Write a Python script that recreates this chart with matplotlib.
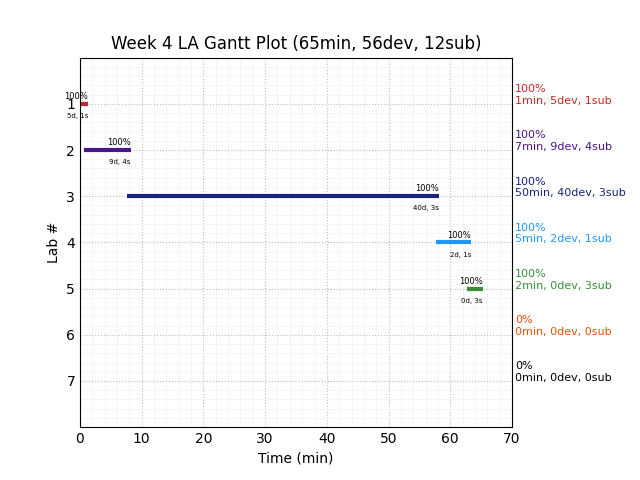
import matplotlib
matplotlib.use("Agg")
import matplotlib.pyplot as plt
from matplotlib.ticker import MultipleLocator

labs = [1, 2, 3, 4, 5, 6, 7]
starts = [0.2, 0.7, 7.6, 57.7, 62.7]
ends = [1.3, 8.2, 58.2, 63.4, 65.3]
pcts = ["100%", "100%", "100%", "100%", "100%", "0%", "0%"]
bar_notes = ["5d, 1s", "9d, 4s", "40d, 3s", "2d, 1s", "0d, 3s"]
summaries = ["1min, 5dev, 1sub", "7min, 9dev, 4sub", "50min, 40dev, 3sub",
             "5min, 2dev, 1sub", "2min, 0dev, 3sub", "0min, 0dev, 0sub",
             "0min, 0dev, 0sub"]
colors = ["#c62828", "#4a148c", "#1a237e", "#2196f3", "#388e3c", "#e65100", "#000000"]

fig, ax = plt.subplots(figsize=(6.4, 4.8), dpi=100)
fig.subplots_adjust(left=0.125, right=0.8, top=0.88, bottom=0.11)

for i, (s, e) in enumerate(zip(starts, ends)):
    y = labs[i]
    ax.plot([s, e], [y, y], color=colors[i], lw=3, solid_capstyle="butt")
    ax.text(e, y - 0.06, pcts[i], ha="right", va="bottom", fontsize=6)
    ax.text(e, y + 0.2, bar_notes[i], ha="right", va="top", fontsize=5)

for i, y in enumerate(labs):
    ax.text(70.5, y + 0.045, pcts[i] + "\n" + summaries[i], color=colors[i],
            fontsize=8, ha="left", va="bottom")

ax.set_xlim(0, 70)
ax.set_ylim(8, 0)
ax.set_yticks(labs)
ax.xaxis.set_minor_locator(MultipleLocator(2))
ax.yaxis.set_minor_locator(MultipleLocator(0.2))
ax.grid(which="major", linestyle=":", color="#bbbbbb", lw=0.8)
ax.grid(which="minor", linestyle="-", color="#f2f2f2", lw=0.5)
ax.set_axisbelow(True)
ax.tick_params(which="both", length=0)
ax.set_xlabel("Time (min)")
ax.set_ylabel("Lab #")
ax.set_title("Week 4 LA Gantt Plot (65min, 56dev, 12sub)")

plt.savefig("out.png", dpi=100)
